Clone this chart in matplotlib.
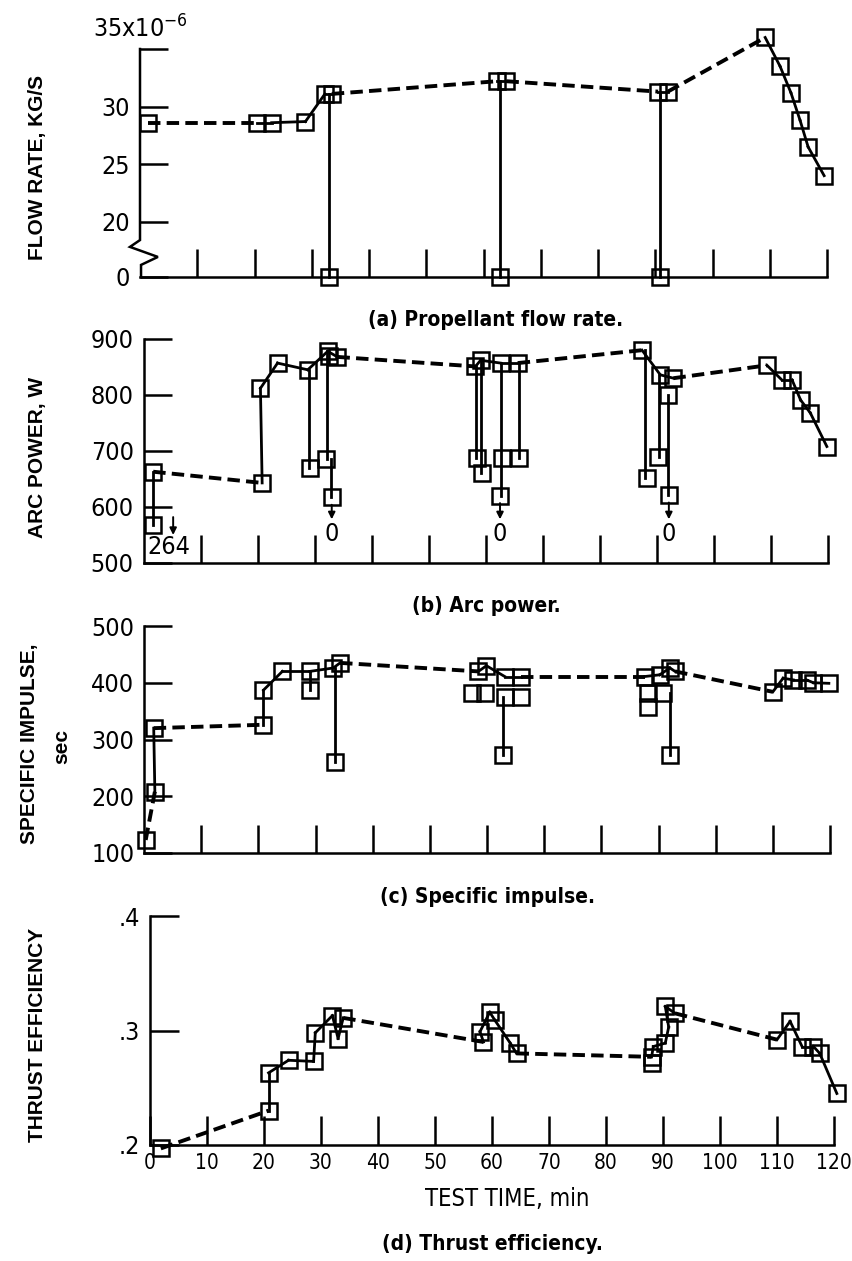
import numpy as np
import matplotlib
matplotlib.use('Agg')
import matplotlib.pyplot as plt

# values, time in min
# (a) propellant flow rate, 1e-6 kg/s
flow_t = [1.4, 20.5, 23.0, 28.9, 32.3, 33.5, 62.3, 64.0, 90.5, 92.2,
          109.2, 111.8, 113.7, 115.3, 116.7, 119.5]
flow_v = [28.6, 28.6, 28.6, 28.7, 31.1, 31.1, 32.2, 32.2, 31.3, 31.3,
          36.0, 33.5, 31.2, 28.8, 26.5, 24.0]
flow_off_t = [33.1, 62.9, 90.8]        # flow shut off -> 0
flow_off_from = [31.1, 32.2, 31.3]

# (b) arc power, W
power_t = [1.7, 20.8, 20.5, 23.5, 28.8, 32.3, 34.0, 58.2, 59.1, 62.6, 65.6,
           87.4, 90.6, 92.9, 109.3, 111.9, 113.7, 115.2, 116.9, 119.8]
power_v = [663, 643, 812, 857, 845, 878, 868, 851, 862, 857, 857,
           880, 836, 830, 853, 827, 827, 791, 768, 708]
power_extra_t = [1.7, 29.2, 32.0, 32.5, 33.0, 58.4, 59.3, 62.8, 62.5, 65.9,
                 88.3, 90.2, 92.0, 92.1]
power_extra_v = [568, 670, 686, 870, 617, 688, 661, 688, 620, 687,
                 652, 690, 800, 621]
power_drop_t = [1.7, 29.0, 32.2, 32.8, 58.3, 59.2, 62.7, 65.8, 87.9, 90.4, 92.0]
power_drop_hi = [663, 845, 878, 686, 851, 862, 857, 857, 880, 836, 800]
power_drop_lo = [568, 670, 686, 617, 688, 661, 620, 687, 652, 690, 621]
power_zero_t = [33.0, 62.5, 92.1]      # arc went out -> 0 W
power_zero_from = [617, 620, 621]
power_low_t = 5.2                       # off-scale reading
power_low_label = '264'

# (c) specific impulse, sec
isp_t = [0.3, 1.9, 1.7, 20.9, 20.9, 24.2, 29.0, 33.1, 34.3, 58.5, 59.9, 63.1,
         66.0, 87.6, 90.2, 92.0, 92.9, 110.0, 111.8, 113.6, 115.9, 117.1, 119.8]
isp_v = [123, 208, 320, 326, 387, 420, 420, 426, 435, 420, 430, 411,
         411, 411, 414, 426, 420, 384, 408, 405, 405, 400, 399]
isp_extra_t = [29.0, 33.4, 57.3, 59.6, 63.1, 66.0, 62.8, 88.1, 90.7, 88.1, 92.0]
isp_extra_v = [387, 261, 382, 382, 375, 375, 273, 382, 382, 358, 273]
isp_drop_t = [29.0, 33.4, 62.8, 92.0]
isp_drop_hi = [420, 426, 375, 382]
isp_drop_lo = [387, 261, 273, 273]

# (d) thrust efficiency
eff_t = [1.9, 20.8, 20.8, 24.3, 28.7, 29.0, 32.0, 33.0, 33.9, 58.5, 57.9,
         59.6, 60.5, 63.2, 64.3, 88.0, 88.3, 90.4, 91.0, 90.4, 92.1,
         110.0, 112.3, 114.4, 116.4, 117.5, 120.5]
eff_v = [0.197, 0.230, 0.263, 0.274, 0.273, 0.298, 0.313, 0.293, 0.311, 0.290, 0.299,
         0.316, 0.309, 0.289, 0.280, 0.277, 0.286, 0.289, 0.303, 0.321, 0.315,
         0.292, 0.308, 0.286, 0.286, 0.280, 0.245]
eff_extra_t = [88.0]
eff_extra_v = [0.272]

time_ticks = list(range(0, 121, 10))

W, H = 852, 1261
NARROW = ['DejaVu Sans Condensed', 'DejaVu Sans']
BOLD = ['Liberation Sans', 'DejaVu Sans']
plt.rcParams['font.family'] = NARROW
plt.rcParams['font.stretch'] = 'condensed'
plt.rcParams['mathtext.default'] = 'regular'

fig = plt.figure(figsize=(W / 100, H / 100), dpi=100)

SQ = dict(marker='s', ms=11, mfc='none', mec='black', mew=1.8, ls='none', clip_on=False, zorder=4)


def px_axes(l, r, t, b):
    return fig.add_axes([l / W, 1 - b / H, (r - l) / W, (b - t) / H])


def style(ax, yticks, ylabels, xlabels=False):
    ax.set_xlim(0, 120)
    for s in ['top', 'right']:
        ax.spines[s].set_visible(False)
    for s in ['left', 'bottom']:
        ax.spines[s].set_linewidth(1.8)
    ax.set_yticks(yticks)
    ax.set_yticklabels(ylabels)
    ax.tick_params(direction='in', length=20, width=1.8, labelsize=18, pad=7)
    if xlabels:
        ax.set_xticks(time_ticks)
        ax.set_xticklabels([str(v) for v in time_ticks])
        ax.tick_params(axis='x', pad=6, labelsize=15)
    else:
        ax.set_xticks(time_ticks[1:])
        ax.tick_params(axis='x', labelbottom=False)
    ax.set_facecolor('none')


def path(ax, t, v):
    # long runs are dashed, short links between close squares solid
    pts = ax.transData.transform(np.column_stack([t, v]))
    for i in range(len(t) - 1):
        dx, dy = pts[i + 1] - pts[i]
        solid = abs(dx) < 4 or np.hypot(dx, dy) < 45
        if solid:
            ax.plot(t[i:i + 2], v[i:i + 2], color='black', lw=2.0, clip_on=False, zorder=3)
        else:
            ax.plot(t[i:i + 2], v[i:i + 2], color='black', lw=2.8, dashes=(3.2, 1.6),
                    clip_on=False, zorder=3)
    ax.plot(t, v, **SQ)


def drops(ax, t, hi, lo):
    for x, a, b in zip(t, hi, lo):
        ax.plot([x, x], [a, b], color='black', lw=2.0, clip_on=False, zorder=3)


# ---- (a) flow rate, broken axis between 0 and 20 ----
BREAK0 = 15.2


def fwd(y):
    y = np.asarray(y, dtype=float)
    return np.where(y >= 20, y, BREAK0 + y * (20 - BREAK0) / 20)


def inv(y):
    y = np.asarray(y, dtype=float)
    return np.where(y >= 20, y, (y - BREAK0) * 20 / (20 - BREAK0))


ax1 = px_axes(140, 827, 49, 277)
ax1.set_yscale('function', functions=(fwd, inv))
ax1.set_ylim(0, 35)
style(ax1, [0, 20, 25, 30, 35], ['0', '20', '25', '30', ''])
ax1.spines['left'].set_visible(False)
ax1.plot([0, 0, -0.0146, 0.026, 0.0015, 0.0015], [1, 0.162, 0.132, 0.088, 0.053, 0],
         transform=ax1.transAxes, color='black', lw=1.8, clip_on=False,
         solid_joinstyle='miter')
ax1.text(0.0, 1.03, r'35x10$^{-6}$', transform=ax1.transAxes, fontsize=18,
         ha='center', va='bottom')
drops(ax1, flow_off_t, flow_off_from, [0] * len(flow_off_t))
path(ax1, flow_t, flow_v)
ax1.plot(flow_off_t, [0] * len(flow_off_t), **SQ)

# ---- (b) arc power ----
ax2 = px_axes(143.5, 828, 339, 563)
ax2.set_ylim(500, 900)
style(ax2, [500, 600, 700, 800, 900], ['500', '600', '700', '800', '900'])
drops(ax2, power_drop_t, power_drop_hi, power_drop_lo)
path(ax2, power_t, power_v)
ax2.plot(power_extra_t, power_extra_v, **SQ)
for x, v in zip(power_zero_t, power_zero_from):
    ax2.annotate('', xy=(x, 578), xytext=(x, v - 13),
                 arrowprops=dict(arrowstyle='-|>', color='black', lw=1.4,
                                 mutation_scale=10, shrinkA=0, shrinkB=0))
    ax2.text(x, 552, '0', fontsize=18, ha='center', va='center')
ax2.annotate('', xy=(power_low_t, 550), xytext=(power_low_t, 582),
             arrowprops=dict(arrowstyle='-|>', color='black', lw=1.4,
                             mutation_scale=10, shrinkA=0, shrinkB=0))
ax2.text(power_low_t - 0.8, 528, power_low_label, fontsize=18, ha='center', va='center')

# ---- (c) specific impulse ----
ax3 = px_axes(144, 830, 626, 853)
ax3.set_ylim(100, 500)
style(ax3, [100, 200, 300, 400, 500], ['100', '200', '300', '400', '500'])
drops(ax3, isp_drop_t, isp_drop_hi, isp_drop_lo)
path(ax3, isp_t, isp_v)
ax3.plot(isp_extra_t, isp_extra_v, **SQ)

# ---- (d) thrust efficiency ----
ax4 = px_axes(150, 834, 916, 1145)
ax4.set_ylim(0.2, 0.4)
style(ax4, [0.2, 0.3, 0.4], ['.2', '.3', '.4'], xlabels=True)
ax4.tick_params(length=21)
path(ax4, eff_t, eff_v)
ax4.plot(eff_extra_t, eff_extra_v, **SQ)


def ftext(x, y, s, **kw):
    fig.text(x / W, 1 - y / H, s, **kw)


lab = dict(fontsize=15, fontweight='bold', family=BOLD, fontstretch='normal',
           rotation=90, ha='center', va='center')
ftext(38, 167, 'FLOW RATE, KG/S', **lab)
ftext(38, 457, 'ARC POWER, W', **lab)
ftext(30, 744, 'SPECIFIC IMPULSE,', **lab)
ftext(62, 747, 'sec', **lab)
ftext(38, 1035, 'THRUST EFFICIENCY', **lab)

cap = dict(fontsize=15, fontweight='bold', ha='center', va='center')
ftext(496, 320, '(a) Propellant flow rate.', **cap)
ftext(486, 606, '(b) Arc power.', **cap)
ftext(487, 897, '(c) Specific impulse.', **cap)
ftext(492, 1244, '(d) Thrust efficiency.', **cap)
ftext(507, 1199, 'TEST TIME, min', fontsize=17, ha='center', va='center')

fig.savefig('out.png', dpi=100)
